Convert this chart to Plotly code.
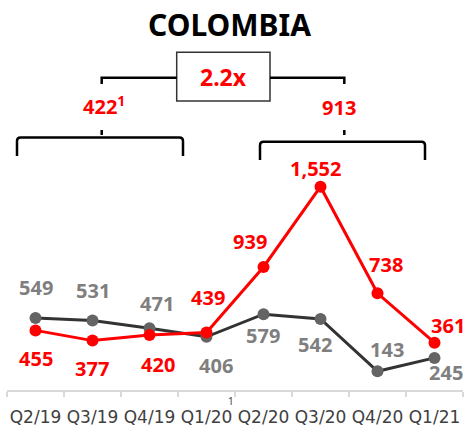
import plotly.graph_objects as go

# Quarterly values
quarters = ["Q2/19", "Q3/19", "Q4/19", "Q1/20", "Q2/20", "Q3/20", "Q4/20", "Q1/21"]
red_values = [455, 377, 420, 439, 939, 1552, 738, 361]
gray_values = [549, 531, 471, 406, 579, 542, 143, 245]

# Summary figures shown above the chart
pre_avg_label = "422"
post_avg_label = "913"
ratio_label = "2.2x"
title_text = "COLOMBIA"

RED = "#ff0000"
GRAY_LABEL = "#7f7f7f"
GRAY_LINE = "#333333"
GRAY_MARKER = "#646464"
FONT = "Noto Sans"

W, H = 472, 433
ML, MR, MT, MB = 7, 9, 0, 43
PW, PH = W - ML - MR, H - MT - MB


def px(x):
    return (x - ML) / PW


def py(y):
    return (H - MB - y) / PH


fig = go.Figure()

fig.add_trace(go.Scatter(
    x=quarters, y=gray_values, mode="lines+markers",
    line=dict(color=GRAY_LINE, width=3),
    marker=dict(color=GRAY_MARKER, size=12),
    hoverinfo="skip", showlegend=False,
))
fig.add_trace(go.Scatter(
    x=quarters, y=red_values, mode="lines+markers",
    line=dict(color=RED, width=3),
    marker=dict(color=RED, size=12),
    hoverinfo="skip", showlegend=False,
))

# Label offsets (pixels) for each point's value
red_shifts = [(0, -28), (-1, -28), (8, -30), (1, 35), (-14, 25), (-5, 18), (8, 29), (13, 17)]
gray_shifts = [(0, 31), (0, 30), (7, 25), (9, -29), (-1, -21), (-6, -25), (9, 22), (11, -15)]

annotations = []
for q, v, (dx, dy) in zip(quarters, red_values, red_shifts):
    annotations.append(dict(
        x=q, y=v, xref="x", yref="y", text=f"<b>{v:,}</b>", showarrow=False,
        xanchor="center", yanchor="middle",
        xshift=dx, yshift=dy, font=dict(family=FONT, size=20, color=RED),
    ))
for q, v, (dx, dy) in zip(quarters, gray_values, gray_shifts):
    annotations.append(dict(
        x=q, y=v, xref="x", yref="y", text=f"<b>{v:,}</b>", showarrow=False,
        xanchor="center", yanchor="middle",
        xshift=dx, yshift=dy, font=dict(family=FONT, size=20, color=GRAY_LABEL),
    ))


def note(x, y, text, size, color):
    return dict(x=px(x), y=py(y), xref="paper", yref="paper", text=text,
                showarrow=False, xanchor="center", yanchor="middle",
                font=dict(family=FONT, size=size, color=color))


annotations += [
    note(229.5, 25, f"<b>{title_text}</b>", 30, "#000000"),
    note(223.3, 77, f"<b>{ratio_label}</b>", 23, RED),
    note(104, 105, f"<b>{pre_avg_label}<sup>1</sup></b>", 20, RED),
    note(339.3, 107, f"<b>{post_avg_label}</b>", 20, RED),
    note(231, 401, "1", 10, "#404040"),
]


def path(points):
    return " ".join(
        (cmd + f"{px(x):.5f},{py(y):.5f}") for cmd, x, y in points
    )


def bracket(x0, x1, ytop, ybot, r=3.5):
    return path([
        ("M", x0, ybot), ("L", x0, ytop + r), ("Q", x0, ytop), ("", x0 + r, ytop),
        ("L", x1 - r, ytop), ("Q", x1, ytop), ("", x1, ytop + r), ("L", x1, ybot),
    ])


line_style = dict(color="#000000", width=2.5)
shapes = [
    # ratio box
    dict(type="rect", xref="paper", yref="paper", x0=px(176.7), x1=px(270),
         y0=py(101), y1=py(52.3), line=dict(color="#333333", width=1.5)),
    # connector bracket above the averages
    dict(type="path", xref="paper", yref="paper",
         path=path([("M", 101.7, 84), ("L", 101.7, 77.7), ("L", 176.7, 77.7)]),
         line=line_style),
    dict(type="path", xref="paper", yref="paper",
         path=path([("M", 270, 77.7), ("L", 344.3, 77.7), ("L", 344.3, 84)]),
         line=line_style),
    # small ticks above the period brackets
    dict(type="line", xref="paper", yref="paper", x0=px(101.7), x1=px(101.7),
         y0=py(130), y1=py(135), line=line_style),
    dict(type="line", xref="paper", yref="paper", x0=px(344.3), x1=px(344.3),
         y0=py(130), y1=py(135), line=line_style),
    # period brackets
    dict(type="path", xref="paper", yref="paper", path=bracket(17, 183, 137.5, 156),
         line=line_style),
    dict(type="path", xref="paper", yref="paper", path=bracket(260, 425, 141.7, 160),
         line=line_style),
]

fig.update_layout(
    width=W, height=H, autosize=False,
    margin=dict(l=ML, r=MR, t=MT, b=MB, pad=0),
    paper_bgcolor="white", plot_bgcolor="white",
    annotations=annotations, shapes=shapes,
    xaxis=dict(
        type="category", categoryorder="array", categoryarray=quarters,
        range=[-0.5, 7.5], tickson="boundaries", tickangle=0, automargin=False,
        ticks="outside", ticklen=5, tickwidth=2, tickcolor="#d9d9d9",
        ticklabelstandoff=11,
        showline=True, linecolor="#d9d9d9", linewidth=2,
        showgrid=False, zeroline=False,
        tickfont=dict(family="DejaVu Sans", size=17, color="#404040"),
    ),
    yaxis=dict(range=[0, 2977], visible=False, showgrid=False, zeroline=False,
               automargin=False),
)

fig.write_html("out.html")
